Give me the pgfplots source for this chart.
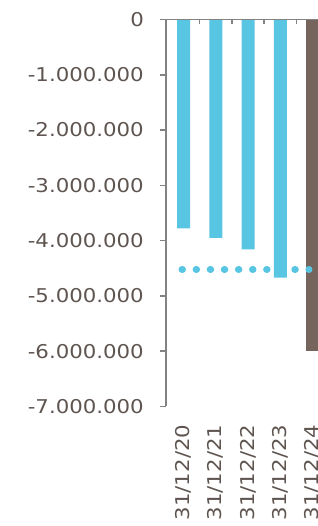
\documentclass[border=0pt]{standalone}
\usepackage{pgfplots}
\pgfplotsset{compat=1.18}
\usepackage{fontspec}
\setmainfont{DejaVu Sans}[FakeStretch=1.12]
\definecolor{barcyan}{RGB}{88,198,226}
\definecolor{barbrown}{RGB}{117,101,92}
\definecolor{axisgray}{RGB}{130,130,130}
\definecolor{txt}{RGB}{95,85,80}
\begin{document}
\begin{tikzpicture}
\begin{axis}[
  name=ax,
  scale only axis, width=152bp, height=387bp,
  xmin=-0.543, xmax=4.17, ymin=-7000000, ymax=0,
  axis y line*=left, axis x line*=bottom,
  x axis line style={draw=none},
  y axis line style={axisgray, line width=1.5bp, -},
  tick style={axisgray, line width=1.5bp},
  tick align=outside,
  major tick length=6bp,
  scaled x ticks=false, scaled y ticks=false,
  xtick={0,1,2,3,4},
  xticklabels={31/12/20,31/12/21,31/12/22,31/12/23,31/12/24},
  major x tick style={draw=none},
  ytick={-7000000,-6000000,-5000000,-4000000,-3000000,-2000000,-1000000,0},
  yticklabels={-7.000.000,-6.000.000,-5.000.000,-4.000.000,-3.000.000,-2.000.000,-1.000.000,0},
  ticklabel style={font=\fontsize{19bp}{22bp}\selectfont, text=txt},
  yticklabel style={anchor=east, inner ysep=0pt, inner xsep=16bp},
  xticklabel style={rotate=90, anchor=east, inner sep=0pt},
  xticklabel shift=12bp,
  clip=true,
]
\addplot[ybar, bar width=13bp, bar shift=0pt, fill=barcyan, draw=none]
  coordinates {(0,-3780000) (1,-3950000) (2,-4160000) (3,-4670000)};
\addplot[ybar, bar width=13bp, bar shift=0pt, fill=barbrown, draw=none]
  coordinates {(4,-6000000)};
\addplot[barcyan, line width=7bp, line cap=round, dash pattern=on 0.5bp off 13.6bp]
  coordinates {(-0.047,-4520000) (3.89,-4520000)};
\end{axis}
\begin{axis}[
  scale only axis, width=152bp, height=387bp,
  xmin=-0.543, xmax=4.17, ymin=-7000000, ymax=0,
  axis y line=none, axis x line*=top,
  x axis line style={axisgray, line width=1.5bp, -},
  tick style={axisgray, line width=1.5bp},
  tick align=inside,
  major tick length=5bp,
  scaled x ticks=false, scaled y ticks=false,
  xtick={0.5,1.5,2.5,3.5},
  xticklabels={},
]
\end{axis}
\pgfresetboundingbox
\path[use as bounding box] ([shift={(-166bp,19.5bp)}]ax.north west) rectangle ([shift={(152bp,-506.5bp)}]ax.north west);
\end{tikzpicture}
\end{document}
